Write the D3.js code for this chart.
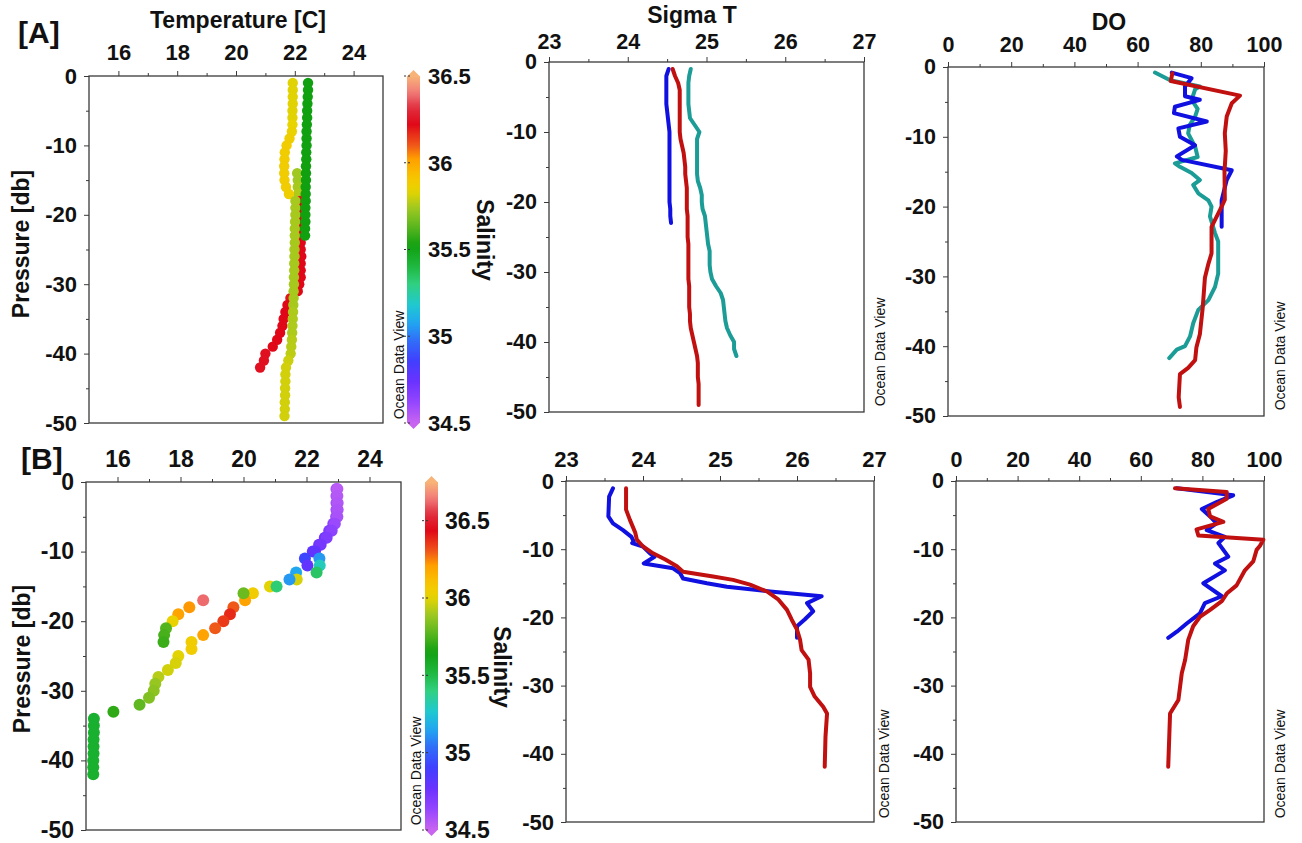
<!DOCTYPE html>
<html><head><meta charset="utf-8">
<script src="https://cdn.jsdelivr.net/npm/d3@7"></script>
<style>body{margin:0;background:#fff;} text{font-family:"Liberation Sans",Arial,sans-serif;}</style>
</head><body><svg id="c" width="1302" height="843"></svg>
<script>
// ---------------- DATA ----------------
// Panel A temperature profiles (pressure, temperature, salinity)
const tA_R_p = [-14,-15,-16,-17,-18,-19,-20,-21,-22,-23,-24,-25,-26,-27,-28,-29,-30,-31,-32,-33,-34,-35,-36,-37,-38,-39,-40,-41,-42];
const tA_R_t = [22.08,22.1,22.1,22.12,22.18,22.2,22.22,22.25,22.25,22.22,22.2,22.2,22.22,22.2,22.2,22.2,22.15,22.1,21.85,21.75,21.68,21.62,21.58,21.5,21.4,21.25,21.0,20.95,20.82];
const tA_R_s = [35.74,35.74,35.75,35.76,36.2,36.22,36.22,36.22,36.22,36.22,36.22,36.22,36.22,36.22,36.22,36.22,36.22,36.22,36.2,36.22,36.22,36.22,36.22,36.22,36.22,36.22,36.24,36.24,36.24];
const tA_Y_p = [-1,-2,-3,-4,-5,-6,-7,-8,-9,-10,-11,-12,-13,-14,-15,-16,-17,-18,-19,-20,-21,-22,-23,-24,-25,-26,-27,-28,-29,-30,-31,-32,-33,-34,-35,-36,-37,-38,-39,-40,-41,-42,-43,-44,-45,-46,-47,-48,-49];
const tA_Y_t = [21.93,21.93,21.93,21.93,21.92,21.92,21.92,21.9,21.82,21.72,21.66,21.65,21.64,21.64,21.65,21.7,21.8,22.02,22.02,22.02,22.01,22.0,22.0,22.0,21.99,21.99,21.98,21.98,21.97,21.97,21.96,21.96,21.95,21.94,21.93,21.92,21.91,21.9,21.88,21.86,21.78,21.7,21.68,21.68,21.67,21.67,21.66,21.66,21.65];
const tA_Y_s = [35.83,35.83,35.83,35.83,35.83,35.83,35.84,35.85,35.87,35.88,35.88,35.88,35.88,35.88,35.88,35.88,35.87,35.75,35.75,35.75,35.75,35.75,35.75,35.75,35.75,35.75,35.75,35.75,35.75,35.75,35.75,35.75,35.75,35.76,35.76,35.76,35.76,35.77,35.77,35.78,35.8,35.81,35.81,35.81,35.81,35.81,35.81,35.81,35.81];
const tA_G_p = [-1,-2,-3,-4,-5,-6,-7,-8,-9,-10,-11,-12,-13,-14,-15,-16,-17,-18,-19,-20,-21,-22,-23];
const tA_G_t = [22.45,22.45,22.44,22.43,22.42,22.42,22.41,22.4,22.4,22.4,22.39,22.39,22.38,22.38,22.38,22.37,22.37,22.37,22.36,22.36,22.36,22.35,22.35];
const tA_G_s = [35.52,35.52,35.52,35.52,35.52,35.52,35.52,35.52,35.52,35.52,35.52,35.52,35.52,35.52,35.52,35.52,35.52,35.52,35.52,35.52,35.52,35.52,35.52];

// Panel B temperature profiles
const tB2_p = [-1,-2,-3,-4,-5,-6,-7,-8,-9,-10,-11,-12,-13,-14,-15,-16,-17,-18,-19,-20,-21,-22,-23,-24,-25,-26,-27,-28,-29,-30,-31,-32,-33,-34,-35,-36,-37,-38,-39,-40,-41,-42];
const tB2_t = [22.95,22.95,22.95,22.95,22.94,22.85,22.72,22.58,22.4,22.2,21.95,22.03,21.67,21.69,20.84,20.3,20.05,19.68,19.57,19.36,19.1,18.72,18.35,18.35,17.93,17.85,17.6,17.3,17.2,17.15,17.0,16.7,15.87,15.25,15.25,15.25,15.24,15.24,15.24,15.23,15.23,15.23];
const tB2_s = [34.6,34.6,34.6,34.6,34.62,34.66,34.7,34.74,34.76,34.8,34.92,34.8,35.15,35.98,36.0,36.05,36.2,36.3,36.38,36.35,36.3,36.2,36.05,36.05,36.0,35.98,35.97,35.93,35.88,35.86,35.84,35.78,35.7,35.56,35.56,35.56,35.56,35.56,35.56,35.56,35.56,35.56];
const tB1_p = [-1,-2,-3,-4,-5,-6,-7,-8,-9,-10,-11,-12,-13,-14,-15,-16,-17,-18,-19,-20,-21,-22,-23];
const tB1_t = [22.98,22.98,22.99,22.99,22.98,22.9,22.8,22.64,22.45,22.27,22.41,22.42,22.32,21.46,21.05,20.0,18.72,18.28,17.93,17.75,17.54,17.48,17.46];
const tB1_s = [34.54,34.55,34.56,34.57,34.58,34.62,34.66,34.7,34.73,34.8,35.12,35.3,35.45,35.12,35.42,35.8,36.62,36.22,36.2,36.02,35.76,35.74,35.72];

// Panel A sigma-T
const sA_blue_p = [-1,-2,-3,-4,-5,-6,-7,-8,-9,-10,-11,-12,-13,-14,-15,-16,-17,-18,-19,-20,-21,-22,-23];
const sA_blue = [24.52,24.49,24.49,24.49,24.49,24.49,24.5,24.51,24.52,24.53,24.53,24.53,24.53,24.53,24.53,24.53,24.53,24.53,24.53,24.53,24.54,24.54,24.55];
const sA_red_p = [-1,-2,-3,-4,-5,-6,-7,-8,-9,-10,-11,-12,-13,-14,-15,-16,-17,-18,-19,-20,-21,-22,-23,-24,-25,-26,-27,-28,-29,-30,-31,-32,-33,-34,-35,-36,-37,-38,-39,-40,-41,-42,-43,-44,-45,-46,-47,-48,-49];
const sA_red = [24.57,24.6,24.64,24.66,24.66,24.66,24.66,24.66,24.66,24.66,24.67,24.69,24.71,24.72,24.73,24.73,24.74,24.75,24.75,24.75,24.75,24.76,24.76,24.76,24.76,24.77,24.77,24.77,24.77,24.77,24.77,24.78,24.78,24.78,24.78,24.79,24.79,24.8,24.82,24.84,24.86,24.88,24.89,24.89,24.89,24.9,24.9,24.9,24.9];
const sA_teal_p = [-1,-2,-3,-4,-5,-6,-7,-8,-9,-10,-11,-12,-13,-14,-15,-16,-17,-18,-19,-20,-21,-22,-23,-24,-25,-26,-27,-28,-29,-30,-31,-32,-33,-34,-35,-36,-37,-38,-39,-40,-41,-42];
const sA_teal = [24.8,24.78,24.77,24.77,24.77,24.77,24.78,24.79,24.85,24.91,24.88,24.88,24.88,24.88,24.88,24.88,24.89,24.92,24.94,24.94,24.95,24.98,24.99,25.0,25.01,25.02,25.04,25.04,25.04,25.05,25.07,25.12,25.18,25.21,25.22,25.23,25.24,25.26,25.3,25.35,25.35,25.38];

// Panel A DO
const dA_teal_p = [-0.8,-1.9,-2.8,-3.2,-4.7,-6,-7.1,-8.3,-9.5,-11.4,-12.9,-13.8,-14.3,-15.2,-16.2,-16.9,-18.1,-19.1,-20,-21.4,-23.8,-25,-29.6,-31.5,-33.4,-34.8,-36.7,-38.6,-40,-40.5,-41.7];
const dA_teal = [65.5,70.3,79.7,78.2,77.1,79.0,78.2,76.5,76.0,78.2,79.0,71.8,73.4,77.1,79.7,77.6,79.2,82.4,83.4,82.9,84.5,85.5,85.5,84.5,82.4,79.2,77.6,76.6,75.0,72.4,70.0];
const dA_blue_p = [-0.8,-1.6,-2.8,-4.2,-4.7,-5.7,-6.6,-7.8,-8.8,-10,-11.2,-12.8,-13.3,-14.8,-16.2,-19.1,-22.9];
const dA_blue = [70.8,77.1,75.0,75.0,79.7,71.8,71.5,81.9,72.9,73.4,78.2,72.4,74.0,89.8,88.2,86.6,86.6];
const dA_red_p = [-0.9,-2.0,-4.1,-5.2,-7.1,-9.5,-12,-15,-19,-20,-22.9,-26.7,-28.2,-30.2,-34.5,-38.3,-40.2,-42,-43.1,-44,-47.3,-48.7];
const dA_red = [71.0,70.5,92.4,89.8,88.2,87.6,87.9,87.5,87.6,86.6,83.4,83.4,82.4,81.3,80.6,79.7,78.6,78.2,76.0,73.4,73.0,73.4];

// Panel B sigma-T
const sB_blue_p = [-1.07,-2.3,-5.2,-6.2,-7.2,-8.2,-8.9,-9.1,-9.6,-10.6,-11.1,-12.1,-12.8,-13.5,-14.3,-15,-15.5,-16.2,-16.9,-17.9,-19.1,-20.3,-21.3,-23];
const sB_blue = [23.61,23.56,23.55,23.61,23.74,23.85,23.88,23.86,24.0,24.09,24.15,24.01,24.39,24.48,24.52,24.83,25.09,25.65,26.32,26.13,26.21,26.1,26.0,26.0];
const sB_red_p = [-1.07,-4.2,-5.7,-7.6,-8.6,-9.6,-10.6,-11.5,-12.5,-13.3,-14,-14.5,-15.2,-16.2,-17.4,-18.9,-20.3,-21.8,-23.3,-24.8,-26.2,-28.2,-30.2,-31.6,-33.1,-34.1,-37.5,-41.9];
const sB_red = [23.78,23.78,23.83,23.9,23.92,24.0,24.13,24.29,24.44,24.52,24.91,25.17,25.39,25.61,25.76,25.87,25.93,26.0,26.04,26.06,26.15,26.17,26.17,26.23,26.34,26.39,26.37,26.36];

// Panel B DO
const dB_blue_p = [-1.07,-2.1,-3.1,-4.1,-5.2,-6.2,-7.2,-8.2,-9.1,-11.1,-12.1,-13.1,-15,-16.9,-17.9,-19.4,-20.9,-22.1,-23];
const dB_blue = [71.7,90.0,84.6,79.8,82.5,84.6,81.4,87.3,85.2,88.4,84.1,87.3,80.3,86.3,80.8,79.2,74.9,71.7,68.9];
const dB_red_p = [-1.07,-1.6,-2.6,-4.1,-5.2,-6.0,-7.1,-8.0,-8.6,-9.5,-10.1,-11.8,-13.1,-15.3,-16.5,-17.6,-18.9,-19.9,-21.3,-23.3,-26.2,-28.2,-32.1,-34.1,-41.9];
const dB_red = [71.1,87.9,87.9,81.9,82.5,86.8,78.1,78.7,99.8,98.7,97.6,96.5,93.8,91.1,87.9,86.3,82.5,79.2,77.0,75.4,74.4,73.3,72.2,69.5,68.9];

// Axis ticks
const pressMajor = [0,-10,-20,-30,-40,-50];
const pressMinor = [-5,-15,-25,-35,-45];
const tempMajor = [16,18,20,22,24];
const tempMinor = [17,19,21,23];
const sigMajor = [23,24,25,26,27];
const sigMinor = [23.5,24.5,25.5,26.5];
const doMajor = [0,20,40,60,80,100];
const doMinor = [10,30,50,70,90];
const salTicksA = [34.5,35,35.5,36,36.5];
const salTicksB = [34.5,35,35.5,36,36.5];

// ODV-like palette (fraction -> colour)
const palT = [0,0.06,0.12,0.18,0.24,0.29,0.34,0.40,0.45,0.51,0.57,0.62,0.67,0.71,0.76,0.80,0.86,0.91,0.95,1.0];
const palC = ["#c864f0","#9446ff","#6a32ff","#4040ff","#3070f8","#20a8f0","#20c8d0","#30d080","#20b840","#10a010","#60b820","#a0c820","#e8d400","#f8c400","#ffa000","#f05818","#e00818","#e03040","#f07878","#f8b478"];

// ---------------- DRAWING ----------------
const svg = d3.select("#c");
const FONT = "Liberation Sans, Arial, sans-serif";
const INK = "#3a3a3a";
const pal = d3.scaleLinear().domain(palT).range(palC).clamp(true);

function panel(c){
  const x = d3.scaleLinear().domain(c.xd).range([c.x0,c.x1]);
  const y = d3.scaleLinear().domain([-50,0]).range([c.y1,c.y0]);
  const g = svg.append("g");
  const fs = c.fs || 21.5;
  const style = s => s.attr("font-family",FONT).attr("font-size",fs).attr("font-weight","bold")
      .call(a=>a.select(".domain").remove()).call(a=>a.selectAll("line").attr("stroke",INK))
      .call(a=>a.selectAll("text").attr("fill","#111"));
  g.append("g").attr("transform",`translate(0,${c.y0})`)
    .call(d3.axisTop(x).tickValues(c.xMinor).tickSize(3).tickFormat("")).call(style);
  g.append("g").attr("transform",`translate(0,${c.y0})`)
    .call(d3.axisTop(x).tickValues(c.xMajor).tickSize(5).tickPadding(c.tp).tickFormat(d=>String(d))).call(style);
  g.append("g").attr("transform",`translate(${c.x0},0)`)
    .call(d3.axisLeft(y).tickValues(pressMinor).tickSize(3).tickFormat("")).call(style);
  g.append("g").attr("transform",`translate(${c.x0},0)`)
    .call(d3.axisLeft(y).tickValues(pressMajor).tickSize(5).tickPadding(7).tickFormat(d=>String(d))).call(style);
  g.append("rect").attr("x",c.x0).attr("y",c.y0).attr("width",c.x1-c.x0).attr("height",c.y1-c.y0)
    .attr("fill","none").attr("stroke",INK).attr("stroke-width",1.3);
  return {x,y,g};
}

function dots(P, ps, ts, ss, smin, smax, r){
  const d = ps.map((p,i)=>({p,t:ts[i],s:ss[i]}));
  P.g.append("g").selectAll("circle").data(d).join("circle")
    .attr("cx",e=>P.x(e.t)).attr("cy",e=>P.y(e.p)).attr("r",r)
    .attr("fill",e=>pal((e.s-smin)/(smax-smin)));
}

function line(P, ps, vs, color){
  const d = ps.map((p,i)=>({p,v:vs[i]}));
  P.g.append("path").datum(d)
    .attr("d",d3.line().x(e=>P.x(e.v)).y(e=>P.y(e.p)))
    .attr("fill","none").attr("stroke",color).attr("stroke-width",4)
    .attr("stroke-linejoin","round").attr("stroke-linecap","round");
}

function colorbar(id, cx0, cx1, y0, y1, smin, smax, ticks, lx, fs){
  const sc = d3.scaleLinear().domain([smin,smax]).range([y1,y0]);
  const grad = svg.append("defs").append("linearGradient").attr("id",id)
    .attr("x1",0).attr("y1",1).attr("x2",0).attr("y2",0);
  d3.range(0,1.0001,0.02).forEach(t=>grad.append("stop").attr("offset",t).attr("stop-color",pal(t)));
  svg.append("rect").attr("x",cx0).attr("y",y0).attr("width",cx1-cx0).attr("height",y1-y0).attr("fill",`url(#${id})`);
  const xm=(cx0+cx1)/2;
  svg.append("path").attr("d",`M${cx0},${y0+0.5}L${xm},${y0-6}L${cx1},${y0+0.5}Z`).attr("fill",pal(1));
  svg.append("path").attr("d",`M${cx0},${y1-0.5}L${xm},${y1+6}L${cx1},${y1-0.5}Z`).attr("fill",pal(0));
  ticks.forEach(v=>{
    svg.append("line").attr("x1",cx0-3).attr("x2",cx0+4).attr("y1",sc(v)).attr("y2",sc(v))
      .attr("stroke","#333").attr("stroke-width",1).attr("stroke-dasharray","2,2");
    svg.append("text").attr("x",lx).attr("y",sc(v)).attr("dy","0.36em").text(String(v))
      .attr("font-family",FONT).attr("font-size",fs).attr("font-weight","bold").attr("fill","#111");
  });
}

function txt(x,y,s,size,opts={}){
  const t = svg.append("text").attr("transform",`translate(${x},${y})${opts.rot?` rotate(${opts.rot})`:""}`)
    .attr("text-anchor",opts.anchor||"middle").attr("font-family",FONT).attr("font-size",size)
    .attr("font-weight",opts.bold===false?"normal":"bold").attr("fill",opts.fill||"#111").text(s);
  return t;
}

// ----- Row A -----
const PAt = panel({x0:89,x1:383,y0:76,y1:423,xd:[15,25],xMajor:tempMajor,xMinor:tempMinor,tp:11,fs:22});
dots(PAt, tA_R_p, tA_R_t, tA_R_s, 34.5, 36.5, 5.2);
dots(PAt, tA_Y_p, tA_Y_t, tA_Y_s, 34.5, 36.5, 5.2);
dots(PAt, tA_G_p, tA_G_t, tA_G_s, 34.5, 36.5, 5.2);
colorbar("cbA", 407, 420, 76, 423, 34.5, 36.5, salTicksA, 428, 22);

const PAs = panel({x0:549,x1:864,y0:62,y1:412,xd:[23,27],xMajor:sigMajor,xMinor:sigMinor,tp:8.5});
line(PAs, sA_teal_p, sA_teal, "#1c9c96");
line(PAs, sA_blue_p, sA_blue, "#1010e0");
line(PAs, sA_red_p, sA_red, "#c01010");

const PAd = panel({x0:948,x1:1264,y0:67,y1:416,xd:[0,100],xMajor:doMajor,xMinor:doMinor,tp:10.5});
line(PAd, dA_teal_p, dA_teal, "#1c9c96");
line(PAd, dA_blue_p, dA_blue, "#1010e0");
line(PAd, dA_red_p, dA_red, "#c01010");

// ----- Row B -----
const PBt = panel({x0:86,x1:401,y0:482,y1:830,xd:[15,25],xMajor:tempMajor,xMinor:tempMinor,tp:10.5,fs:23});
dots(PBt, tB2_p, tB2_t, tB2_s, 34.5, 36.75, 6);
dots(PBt, tB1_p, tB1_t, tB1_s, 34.5, 36.75, 6);
colorbar("cbB", 425, 438, 482, 830, 34.5, 36.75, salTicksB, 445, 23);

const PBs = panel({x0:566,x1:874,y0:481,y1:822,xd:[23,27],xMajor:sigMajor,xMinor:sigMinor,tp:9.5,fs:22});
line(PBs, sB_blue_p, sB_blue, "#1010e0");
line(PBs, sB_red_p, sB_red, "#c01010");

const PBd = panel({x0:956,x1:1264,y0:481,y1:822,xd:[0,100],xMajor:doMajor,xMinor:doMinor,tp:9.5});
line(PBd, dB_blue_p, dB_blue, "#1010e0");
line(PBd, dB_red_p, dB_red, "#c01010");

// ----- Labels -----
txt(238,27.5,"Temperature [C]",23);
txt(692,23,"Sigma T",23);
txt(1109,30,"DO",23);
txt(18,43,"[A]",30,{anchor:"start"});
txt(21,469,"[B]",30,{anchor:"start"});
txt(29,244,"Pressure [db]",23,{rot:-90});
txt(30,659,"Pressure [db]",23,{rot:-90});
txt(477,240,"Salinity",23,{rot:90});
txt(494,667,"Salinity",23,{rot:90});
const odv = (x,y)=>txt(x,y,"Ocean Data View",14,{rot:-90,bold:false});
odv(404,365); odv(885,352); odv(1285,356);
odv(421,771); odv(889,764); odv(1285,764);
</script></body></html>
